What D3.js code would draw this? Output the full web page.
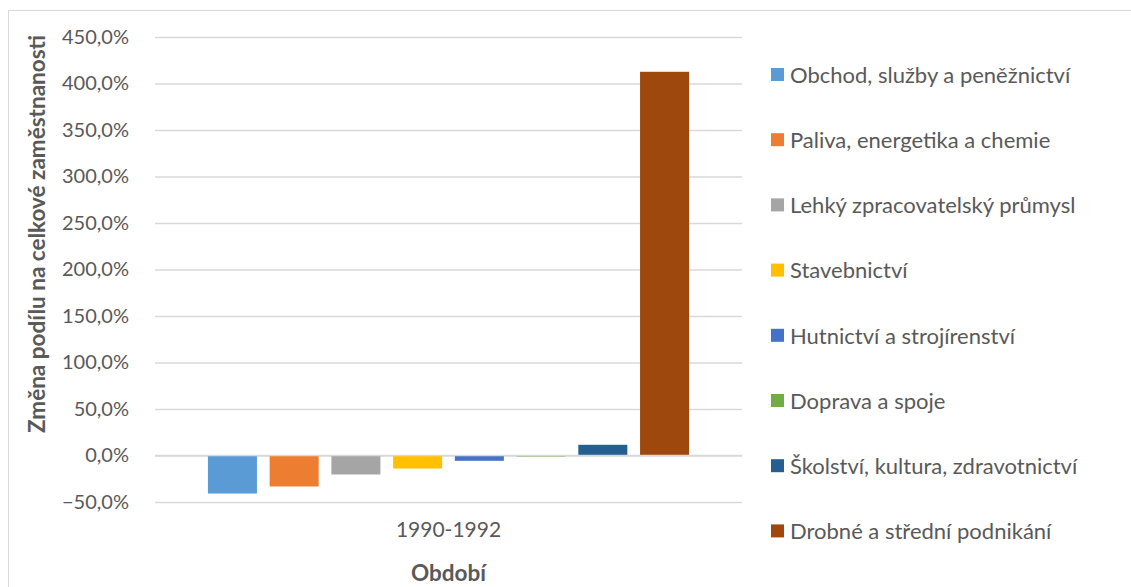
<!DOCTYPE html>
<html><head><meta charset="utf-8">
<script src="https://cdn.jsdelivr.net/npm/d3@7"></script>
<style>body{margin:0;background:#fff}svg{display:block}text{font-family:Lato,"Open Sans",sans-serif}</style>
</head><body>
<script>
const categories = ["1990-1992"];
const seriesNames = ["Obchod, služby a peněžnictví","Paliva, energetika a chemie","Lehký zpracovatelský průmysl","Stavebnictví","Hutnictví a strojírenství","Doprava a spoje","Školství, kultura, zdravotnictví","Drobné a střední podnikání"];
const seriesValues = [-0.409, -0.333, -0.204, -0.140, -0.057, -0.005, 0.115, 4.126];
const colors = ["#5B9BD5","#ED7D31","#A5A5A5","#FFC000","#4472C4","#70AD47","#255E91","#9E480E"];
const yTicks = [-0.5,0,0.5,1,1.5,2,2.5,3,3.5,4,4.5];

const W=1131,H=587;
const svg=d3.select("body").append("svg").attr("width",W).attr("height",H);
svg.append("rect").attr("x",8.5).attr("y",10.5).attr("width",1200).attr("height",700).attr("fill","none").attr("stroke","#d9d9d9");

const plot={l:155,r:742,t:37,b:502};
const y=d3.scaleLinear().domain([-0.5,4.5]).range([plot.b,plot.t]);
const x0=d3.scaleBand().domain(categories).range([plot.l,plot.r]).paddingInner(0).paddingOuter(0.11);
const x1=d3.scaleBand().domain(seriesNames).range([0,x0.bandwidth()]).paddingInner(0.206).paddingOuter(0);

const fmt=v=>d3.format(".1f")(v*100).replace(".",",")+"%";
const yAxis=d3.axisLeft(y).tickValues(yTicks).tickFormat(fmt).tickSize(-(plot.r-plot.l)).tickPadding(26);
const ga=svg.append("g").attr("transform",`translate(${plot.l},0)`).call(yAxis);
ga.select(".domain").remove();
ga.selectAll(".tick line").attr("stroke","#d9d9d9").attr("stroke-width",1.3);
ga.selectAll(".tick text").attr("fill","#595959").style("font-size","20px").style("font-family","Lato");

// bars
const g=svg.append("g");
categories.forEach(c=>{
  g.selectAll("rect.b").data(seriesValues).enter().append("rect")
   .attr("x",(d,i)=>x0(c)+x1(seriesNames[i]))
   .attr("width",x1.bandwidth())
   .attr("y",d=>y(Math.max(0,d)))
   .attr("height",d=>Math.max(1,Math.abs(y(d)-y(0))))
   .attr("fill",(d,i)=>colors[i]);
});
svg.append("line").attr("x1",plot.l).attr("x2",plot.r).attr("y1",y(0)).attr("y2",y(0)).attr("stroke","#d9d9d9").attr("stroke-width",1.3);

const xa=d3.axisBottom(x0).tickSize(0).tickPadding(0);
const gx=svg.append("g").attr("transform",`translate(0,${plot.b+19})`).call(xa);
gx.select(".domain").remove();
gx.selectAll(".tick text").attr("fill","#595959").style("font-size","21px").style("font-family","Lato").attr("dy","0.75em");

svg.append("text").attr("x",(plot.l+plot.r)/2).attr("y",581).attr("text-anchor","middle")
  .attr("fill","#595959").style("font-size","22.5px").style("font-weight","bold").text("Období");
svg.append("text").attr("transform",`translate(45,234) rotate(-90)`).attr("text-anchor","middle")
  .attr("fill","#595959").style("font-size","22.5px").style("font-weight","bold").text("Změna podílu na celkové zaměstnanosti");

const lg=svg.append("g");
seriesNames.forEach((n,i)=>{
  const cy=75+i*65.2;
  lg.append("rect").attr("x",771).attr("y",cy-7).attr("width",13).attr("height",13).attr("fill",colors[i]);
  lg.append("text").attr("x",790).attr("y",cy).attr("dy","0.35em").attr("fill","#595959").style("font-size","22px").text(n);
});
</script>
</body></html>
